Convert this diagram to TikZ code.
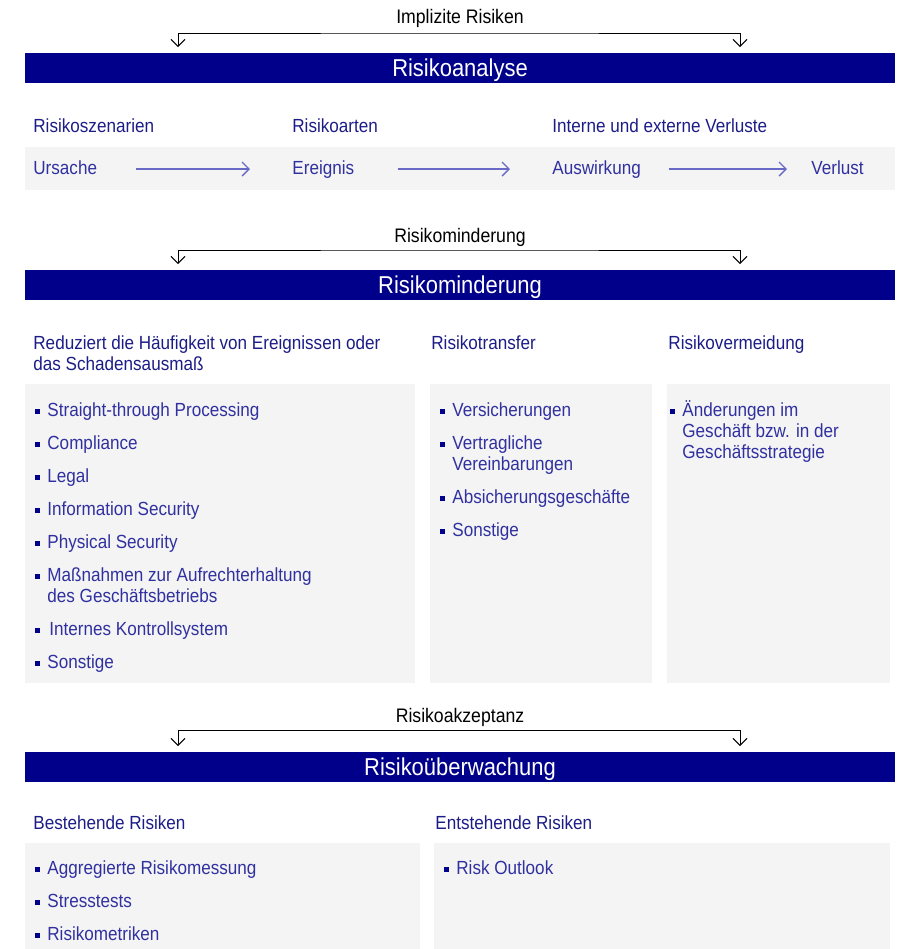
\documentclass[tikz,border=0pt]{standalone}
\usepackage{fontspec}
\setmainfont[FakeStretch=0.9]{Liberation Sans}
\usetikzlibrary{arrows.meta}

\definecolor{navy}{RGB}{0,0,139}
\definecolor{kopfblau}{RGB}{28,28,135}
\definecolor{eintragblau}{RGB}{48,48,160}
\definecolor{pfeilblau}{RGB}{105,105,200}
\definecolor{feldgrau}{RGB}{244,244,244}

\tikzset{
  banner/.style={fill=navy, text=white, inner sep=0pt, minimum width=435pt,
    minimum height=15pt, text height=8.6pt, text depth=0pt,
    font=\fontsize{12.2}{14}\selectfont},
  oben/.style={inner sep=0pt, anchor=base, font=\fontsize{9.8}{11}\selectfont},
  kopf/.style={inner sep=0pt, anchor=base west, align=left, text=kopfblau,
    font=\fontsize{9.5}{10.5}\selectfont},
  eintrag/.style={inner sep=0pt, anchor=base west, align=left, text=eintragblau,
    font=\fontsize{9.5}{10.5}\selectfont},
  fluss/.style={eintrag, anchor=west, text height=6.8pt, text depth=1.8pt},
  klammer/.style={draw=black, line width=0.5pt,
    {Straight Barb[length=3.5pt,width=7pt]}-{Straight Barb[length=3.5pt,width=7pt]}},
  pfeil/.style={draw=pfeilblau, line width=0.7pt,
    -{Straight Barb[length=3.5pt,width=7pt]}}
}

\begin{document}
\begin{tikzpicture}[x=0.5pt, y=-0.5pt]
  % Rahmen (Pixel des Originals)
  \useasboundingbox (0,0) rectangle (898,949);
  \def\punkt#1#2{\fill[navy] (#1-2.5,#2-2.5) rectangle (#1+2.5,#2+2.5);}

  % Implizite Risiken
  \node[oben] (impl) at (460,23) {Implizite Risiken};
  \coordinate (impla) at (178,47);
  \coordinate (implb) at (740,47);
  \coordinate (implm) at (460,33);
  \draw[klammer] (impla) |- (implm) -| (implb);

  % Risikoanalyse
  \node[banner] (ana) at (460,67.5) {Risikoanalyse};
  \node[kopf] (szen) at (33,132) {Risikoszenarien};
  \node[kopf] (arten) at (292,132) {Risikoarten};
  \node[kopf] (verl) at (552,132) {Interne und externe Verluste};
  \fill[feldgrau] (25,147) rectangle (895,190);
  \node[fluss] (urs) at (33,169) {Ursache};
  \node[fluss] (ereig) at (292,169) {Ereignis};
  \node[fluss] (ausw) at (552,169) {Auswirkung};
  \node[fluss] (verlust) at (811,169) {Verlust};
  \draw[pfeil] ([xshift=19.5pt]urs.east) -- ([xshift=-21pt]ereig.west);
  \draw[pfeil] ([xshift=21.5pt]ereig.east) -- ([xshift=-21pt]ausw.west);
  \draw[pfeil] ([xshift=14pt]ausw.east) -- ([xshift=-12pt]verlust.west);

  % Risikominderung
  \node[oben] (mind) at (460,242) {Risikominderung};
  \coordinate (minda) at (178,264);
  \coordinate (mindb) at (740,264);
  \coordinate (mindm) at (460,250);
  \draw[klammer] (minda) |- (mindm) -| (mindb);

  \node[banner] (minder) at (460,284.5) {Risikominderung};
  \node[kopf] (redu) at (33,370) {Reduziert die Häufigkeit von Ereignissen oder\\das Schadensausmaß};
  \node[kopf] (trans) at (431,349) {Risikotransfer};
  \node[kopf] (verm) at (668,349) {Risikovermeidung};
  \fill[feldgrau] (25,384) rectangle (415,683);
  \fill[feldgrau] (430,384) rectangle (652,683);
  \fill[feldgrau] (667,384) rectangle (890,683);

  % Massnahmen
  \node[eintrag] (stp) at (47,416) {Straight-through Processing};  \punkt{37}{411}
  \node[eintrag] (comp) at (47,449) {Compliance};                  \punkt{37}{444}
  \node[eintrag] (legal) at (47,482) {Legal};                      \punkt{37}{477}
  \node[eintrag] (infos) at (47,515) {Information Security};       \punkt{37}{510}
  \node[eintrag] (phys) at (47,548) {Physical Security};           \punkt{37}{543}
  \node[eintrag] (bcm) at (47,602) {Maßnahmen zur Aufrechterhaltung\\des Geschäftsbetriebs}; \punkt{37}{576}
  \node[eintrag] (iks) at (49,635) {Internes Kontrollsystem};      \punkt{37}{630}
  \node[eintrag] (sonst) at (47,668) {Sonstige};                   \punkt{37}{663}

  % Transfer
  \node[eintrag] (vers) at (452,416) {Versicherungen};             \punkt{442}{411}
  \node[eintrag] (vertr) at (452,470) {Vertragliche\\Vereinbarungen}; \punkt{442}{444}
  \node[eintrag] (absi) at (452,503) {Absicherungsgeschäfte};      \punkt{442}{498}
  \node[eintrag] (sonst2) at (452,536) {Sonstige};                 \punkt{442}{531}

  % Vermeidung
  \node[eintrag] (aend) at (682,458) {Änderungen im\\Geschäft bzw. in der\\Geschäftsstrategie}; \punkt{672}{411}

  % Risikoakzeptanz
  \node[oben] (akz) at (460,722) {Risikoakzeptanz};
  \coordinate (akza) at (178,746);
  \coordinate (akzb) at (740,746);
  \coordinate (akzm) at (460,730);
  \draw[klammer] (akza) |- (akzm) -| (akzb);

  % Risikoueberwachung
  \node[banner] (ueber) at (460,766.5) {Risikoüberwachung};
  \node[kopf] (best) at (33,829) {Bestehende Risiken};
  \node[kopf] (ents) at (435,829) {Entstehende Risiken};
  \fill[feldgrau] (25,843) rectangle (420,949);
  \fill[feldgrau] (434,843) rectangle (890,949);
  \node[eintrag] (aggr) at (47,874) {Aggregierte Risikomessung};   \punkt{37}{869}
  \node[eintrag] (stress) at (47,907) {Stresstests};               \punkt{37}{902}
  \node[eintrag] (metr) at (47,940) {Risikometriken};              \punkt{37}{935}
  \node[eintrag] (outl) at (456,874) {Risk Outlook};               \punkt{446}{869}
\end{tikzpicture}
\end{document}
